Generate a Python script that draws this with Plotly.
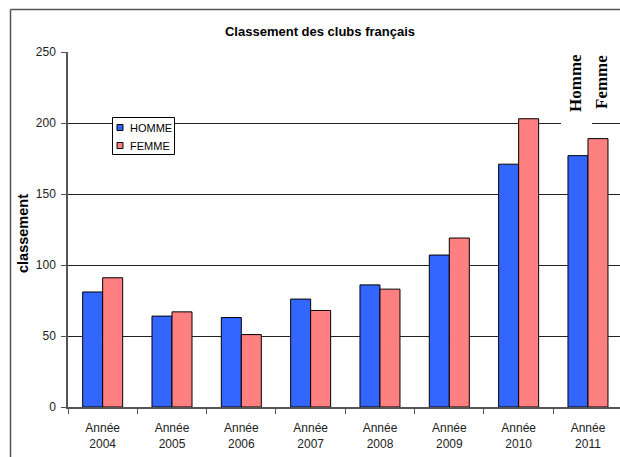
import plotly.graph_objects as go

categories = ["Année<br>2004", "Année<br>2005", "Année<br>2006", "Année<br>2007",
              "Année<br>2008", "Année<br>2009", "Année<br>2010", "Année<br>2011"]
series_names = ["HOMME", "FEMME"]
homme = [81, 64, 63, 76, 86, 107, 171, 177]
femme = [91, 67, 51, 68, 83, 119, 203, 189]
y_ticks = [0, 50, 100, 150, 200, 250]
colors = ["#3366FF", "#FF8080"]

FONT = "Arial, Liberation Sans, sans-serif"
SERIF = "Times New Roman, Liberation Serif, serif"
W, H = 620, 457
L, R, T, B = 68, 0, 52, 50
pw, ph = W - L - R, H - T - B

def px(x):
    return (x - L) / pw

def py(y):
    return (H - B - y) / ph

fig = go.Figure()
for name, vals, col in zip(series_names, [homme, femme], colors):
    fig.add_trace(go.Bar(x=categories, y=vals, name=name,
                         marker=dict(color=col, line=dict(color="#000000", width=1))))

shapes = [
    # outer chart frame (top and left visible)
    dict(type="line", xref="paper", yref="paper", x0=px(10.5), x1=px(625), y0=py(9.5), y1=py(9.5),
         line=dict(color="#555555", width=1.5)),
    dict(type="line", xref="paper", yref="paper", x0=px(10.5), x1=px(10.5), y0=py(9.5), y1=py(460),
         line=dict(color="#555555", width=1.5)),
    # white boxes behind the side labels
    dict(type="rect", xref="paper", yref="paper", x0=px(561), x1=px(592), y0=py(40), y1=py(127),
         fillcolor="white", line=dict(width=0), layer="above"),
    dict(type="rect", xref="paper", yref="paper", x0=px(592), x1=px(610), y0=py(40), y1=py(119),
         fillcolor="white", line=dict(width=0), layer="above"),
    # legend box
    dict(type="rect", xref="paper", yref="paper", x0=px(112.5), x1=px(174.5), y0=py(117.5), y1=py(154.5),
         fillcolor="white", line=dict(color="#000000", width=1), layer="above"),
]

annotations = [
    dict(text="<b>classement</b>", xref="paper", yref="paper", x=px(23), y=py(234), textangle=-90,
         showarrow=False, font=dict(family=FONT, size=14.5, color="#000000"), xanchor="center", yanchor="middle"),
    dict(text="<b>Homme</b>", xref="paper", yref="paper", x=px(575), y=py(83), textangle=-90,
         showarrow=False, font=dict(family=SERIF, size=17, color="#000000"),
         xanchor="center", yanchor="middle"),
    dict(text="<b>Femme</b>", xref="paper", yref="paper", x=px(601), y=py(82), textangle=-90,
         showarrow=False, font=dict(family=SERIF, size=17, color="#000000"),
         xanchor="center", yanchor="middle"),
]

# legend entries (drawn inside the legend box)
for i, (name, col) in enumerate(zip(series_names, colors)):
    yc = 127.5 + i * 18
    shapes.append(dict(type="rect", xref="paper", yref="paper", x0=px(117), x1=px(123),
                       y0=py(yc - 3), y1=py(yc + 3), fillcolor=col,
                       line=dict(color="#000000", width=1), layer="above"))
    annotations.append(dict(text=name, xref="paper", yref="paper", x=px(128), y=py(yc),
                            xanchor="left", yanchor="middle", showarrow=False,
                            font=dict(family=FONT, size=11, color="#000000")))

fig.update_layout(
    width=W, height=H,
    margin=dict(l=L, r=R, t=T, b=B, pad=0),
    paper_bgcolor="white", plot_bgcolor="white",
    barmode="group", bargap=0.423, bargroupgap=0,
    title=dict(text="<b>Classement des clubs français</b>", x=320 / W, xanchor="center",
               y=1 - 31 / H, yanchor="middle", font=dict(family=FONT, size=13, color="#000000")),
    font=dict(family=FONT, size=12, color="#222222"),
    showlegend=False,
    shapes=shapes,
    annotations=annotations,
)

fig.update_xaxes(range=[-0.5, 7.462], type="category", tickson="boundaries",
                 ticks="outside", ticklen=5, tickcolor="#555555",
                 showline=True, linecolor="#555555", linewidth=1.5,
                 showgrid=False, tickfont=dict(family=FONT, size=12, color="#222222"),
                 ticklabelstandoff=9, fixedrange=True)
fig.update_yaxes(range=[0, 250], tickvals=y_ticks, ticks="outside", ticklen=5, tickcolor="#555555",
                 showline=True, linecolor="#555555", linewidth=1.5,
                 showgrid=True, gridcolor="#222222", gridwidth=1, zeroline=False,
                 tickfont=dict(family=FONT, size=12, color="#222222"),
                 ticklabelstandoff=3, fixedrange=True)

fig.write_html("out.html", config={"displayModeBar": False},
               post_script="document.body.style.margin='0';document.body.style.overflow='hidden';")
